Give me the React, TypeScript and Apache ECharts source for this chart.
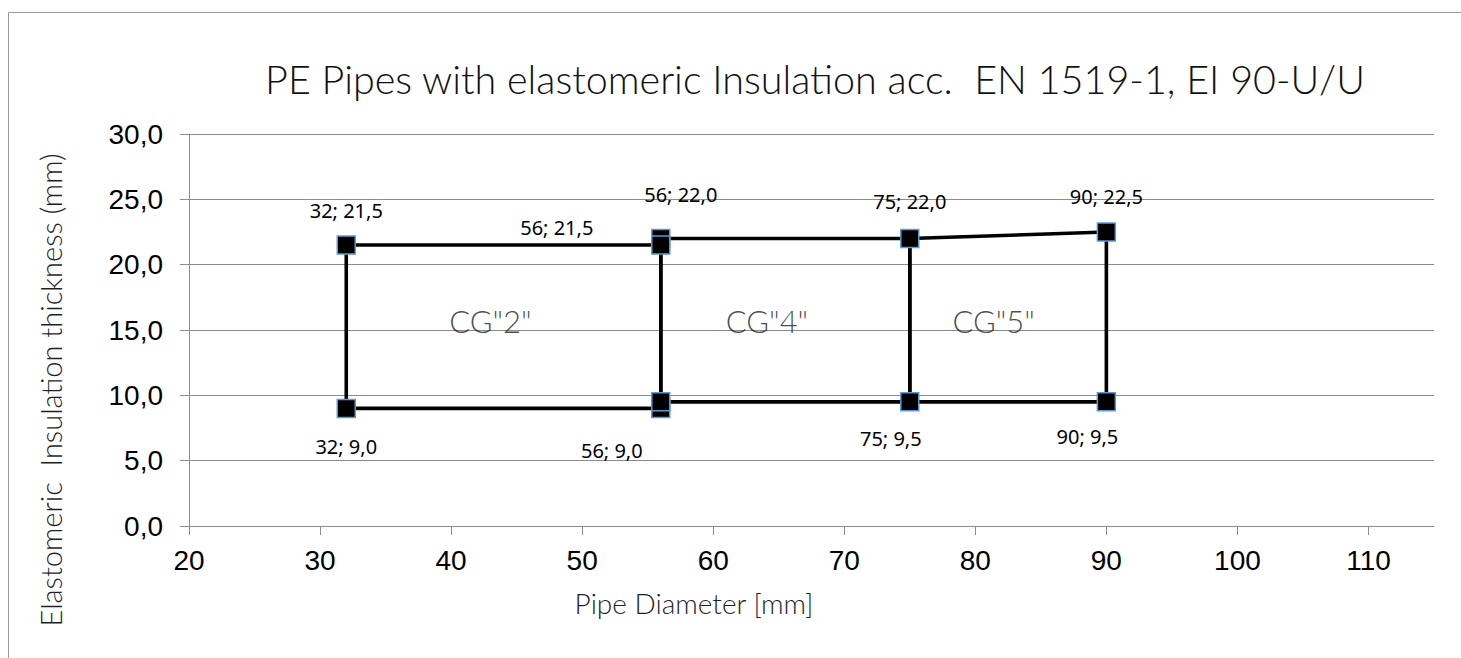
import React, { useEffect, useRef } from "react";
import * as echarts from "echarts";

// ---- data ----
const cg2X = [32, 56, 56, 32, 32];
const cg2Y = [21.5, 21.5, 9.0, 9.0, 21.5];
const cg4X = [56, 75, 75, 56, 56];
const cg4Y = [22.0, 22.0, 9.5, 9.5, 22.0];
const cg5X = [75, 90, 90, 75, 75];
const cg5Y = [22.0, 22.5, 9.5, 9.5, 22.0];

// unique points with markers (draw order matters for overlaps)
const markerX = [32, 56, 56, 75, 90, 32, 56, 56, 75, 90];
const markerY = [21.5, 22.0, 21.5, 22.0, 22.5, 9.0, 9.0, 9.5, 9.5, 9.5];

const groupNames = ['CG"2"', 'CG"4"', 'CG"5"'];
const groupLabelX = [43, 64.1, 81.4];
const groupLabelY = [15.7, 15.7, 15.7];

const xTickValues = [20, 30, 40, 50, 60, 70, 80, 90, 100, 110];
const xMin = 20;
const xMax = 115;
const yMin = 0;
const yMax = 30;
const yInterval = 5;

const titleText = "PE Pipes with elastomeric Insulation acc.  EN 1519-1, EI 90-U/U";
const xName = "Pipe Diameter [mm]";
const yName = "Elastomeric  Insulation thickness (mm)";

// ---- styling (label offsets relative to each marker, in px) ----
const labelOffsets: (number[] | null)[] = [
  [0, -35],
  [20, -44],
  [-104, -18],
  [0, -37],
  [0, -36],
  [0, 38],
  [-49, 42],
  null,
  [-19, 37],
  [-19, 35],
];

const LIGHT_FONT = "Lato, 'Noto Sans', sans-serif";
const fmt = (v: number) => v.toFixed(1).replace(".", ",");

const zip = (xs: number[], ys: number[]) => xs.map((x, i) => [x, ys[i]]);

export default function App() {
  const ref = useRef<HTMLDivElement>(null);
  useEffect(() => {
    if (!ref.current) return;
    const chart = echarts.init(ref.current, undefined, { renderer: "svg" });
    const lineSeries = [
      { name: groupNames[0], xs: cg2X, ys: cg2Y },
      { name: groupNames[1], xs: cg4X, ys: cg4Y },
      { name: groupNames[2], xs: cg5X, ys: cg5Y },
    ].map((s) => ({
      type: "line",
      name: s.name,
      data: zip(s.xs, s.ys),
      showSymbol: false,
      symbol: "none",
      lineStyle: { color: "#000", width: 3.6 },
      z: 2,
    }));

    const markerData = markerX.map((x, i) => {
      const off = labelOffsets[i];
      return {
        value: [x, markerY[i]],
        label: off ? { show: true, offset: off } : { show: false },
      };
    });

    const option: any = {
      animation: false,
      backgroundColor: "#fff",
      grid: {
        left: 189,
        right: 27,
        top: 134,
        bottom: 132,
        containLabel: false,
        outerBoundsMode: "none",
      },
      xAxis: {
        type: "value",
        min: xMin,
        max: xMax,
        interval: 10,
        splitLine: { show: false },
        axisLine: { show: true, lineStyle: { color: "#8c8c8c", width: 1 } },
        axisTick: {
          show: true,
          length: 9,
          customValues: xTickValues,
          lineStyle: { color: "#8c8c8c" },
        },
        axisLabel: {
          customValues: xTickValues,
          fontSize: 28,
          fontFamily: "'Liberation Sans', Arial, sans-serif",
          color: "#000",
          margin: 20,
        },
      },
      yAxis: {
        type: "value",
        min: yMin,
        max: yMax,
        interval: yInterval,
        splitLine: { show: true, lineStyle: { color: "#8c8c8c", width: 1 } },
        axisLine: { show: true, lineStyle: { color: "#8c8c8c", width: 1 } },
        axisTick: { show: true, length: 9, lineStyle: { color: "#8c8c8c" } },
        axisLabel: {
          formatter: (v: number) => fmt(v),
          fontSize: 28,
          fontFamily: "'Liberation Sans', Arial, sans-serif",
          color: "#000",
          margin: 26,
        },
      },
      series: [
        ...lineSeries,
        {
          type: "scatter",
          name: "points",
          data: markerData,
          symbol: "rect",
          symbolSize: 18,
          itemStyle: {
            color: "#000",
            opacity: 1,
            borderColor: "#5b9bd5",
            borderWidth: 1.5,
          },
          label: {
            position: "inside",
            formatter: (p: any) => `${p.value[0]}; ${fmt(p.value[1])}`,
            fontSize: 20,
            fontFamily: "'Noto Sans', 'Open Sans', sans-serif",
            color: "#000",
            align: "center",
            verticalAlign: "middle",
          },
          z: 3,
        },
        {
          type: "scatter",
          name: "groups",
          data: groupNames.map((n, i) => ({ name: n, value: [groupLabelX[i], groupLabelY[i]] })),
          symbolSize: 0,
          silent: true,
          label: {
            show: true,
            position: "inside",
            formatter: (p: any) => p.name,
            fontSize: 31,
            fontFamily: LIGHT_FONT,
            fontWeight: 300,
            color: "#1a1a1a",
          },
          z: 4,
        },
      ],
      graphic: [
        {
          type: "line",
          shape: { x1: 8.5, y1: 12.5, x2: 1461, y2: 12.5 },
          style: { stroke: "#9a9a9a", lineWidth: 1 },
          silent: true,
          z: -10,
        },
        {
          type: "line",
          shape: { x1: 8.5, y1: 12.5, x2: 8.5, y2: 658 },
          style: { stroke: "#9a9a9a", lineWidth: 1 },
          silent: true,
          z: -10,
        },
        {
          type: "text",
          x: 815,
          y: 78,
          style: {
            text: titleText,
            fontSize: 39.5,
            fontFamily: LIGHT_FONT,
            fontWeight: 300,
            fill: "#111",
            textAlign: "center",
            textVerticalAlign: "middle",
          },
        },
        {
          type: "text",
          x: 694,
          y: 603,
          style: {
            text: xName,
            fontSize: 28,
            fontFamily: LIGHT_FONT,
            fontWeight: 300,
            fill: "#1f1f1f",
            textAlign: "center",
            textVerticalAlign: "middle",
          },
        },
        {
          type: "text",
          x: 50,
          y: 390,
          rotation: Math.PI / 2,
          style: {
            text: yName,
            fontSize: 29,
            fontFamily: LIGHT_FONT,
            fontWeight: 300,
            fill: "#1f1f1f",
            textAlign: "center",
            textVerticalAlign: "middle",
          },
        },
      ],
    };
    chart.setOption(option);
    return () => chart.dispose();
  }, []);
  return (
    <div
      ref={ref}
      style={{ position: "fixed", left: 0, top: 0, width: 1461, height: 658 }}
    />
  );
}
